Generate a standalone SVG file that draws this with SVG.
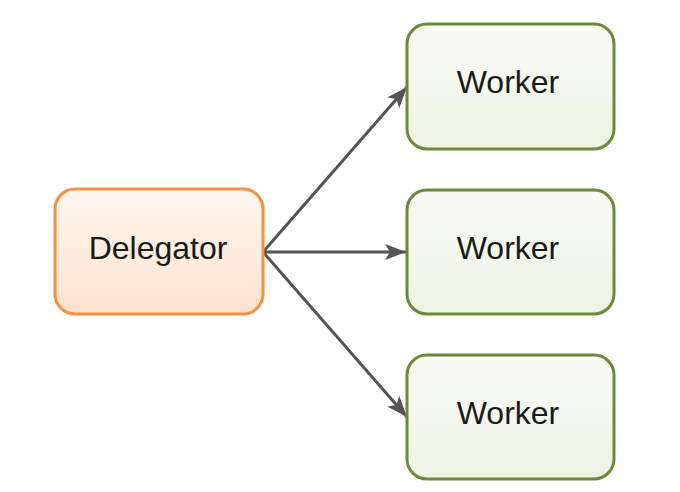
<svg xmlns="http://www.w3.org/2000/svg" width="680" height="492" viewBox="0 0 680 492">
<defs>
<linearGradient id="og" x1="0" y1="0" x2="0" y2="1"><stop offset="0" stop-color="#fff6ee"/><stop offset="1" stop-color="#fde3cf"/></linearGradient>
<linearGradient id="gg" x1="0" y1="0" x2="0" y2="1"><stop offset="0" stop-color="#f9fbf4"/><stop offset="1" stop-color="#eef3e4"/></linearGradient>
<marker id="ah" markerWidth="22" markerHeight="18" refX="21" refY="9" orient="auto" markerUnits="userSpaceOnUse" viewBox="0 0 22 18"><path d="M0,1 L21,9 L0,17 L5,9 z" fill="#555"/></marker>
<style>
.lbl{font-family:"Liberation Sans",Arial,sans-serif;font-size:32px;fill:#1a1a1a;text-anchor:middle}
.w{fill:url(#gg);stroke:#6d8a3c;stroke-width:3}
.c{stroke:#555;stroke-width:3;fill:none;marker-end:url(#ah)}
</style>
</defs>
<g id="connectors">
<line class="c" x1="263" y1="252" x2="407" y2="87"/>
<line class="c" x1="263" y1="252" x2="406" y2="252"/>
<line class="c" x1="263" y1="252" x2="407" y2="417"/>
</g>
<g id="delegator">
<rect x="55" y="189" width="208" height="125" rx="20" fill="url(#og)" stroke="#f5913f" stroke-width="3"/>
<text class="lbl" x="158" y="259">Delegator</text>
</g>
<g id="worker1">
<rect class="w" x="407" y="24" width="207" height="125" rx="20"/>
<text class="lbl" x="508" y="93">Worker</text>
</g>
<g id="worker2">
<rect class="w" x="407" y="190" width="207" height="124" rx="20"/>
<text class="lbl" x="508" y="259">Worker</text>
</g>
<g id="worker3">
<rect class="w" x="407" y="355" width="207" height="124" rx="20"/>
<text class="lbl" x="508" y="424">Worker</text>
</g>
</svg>
